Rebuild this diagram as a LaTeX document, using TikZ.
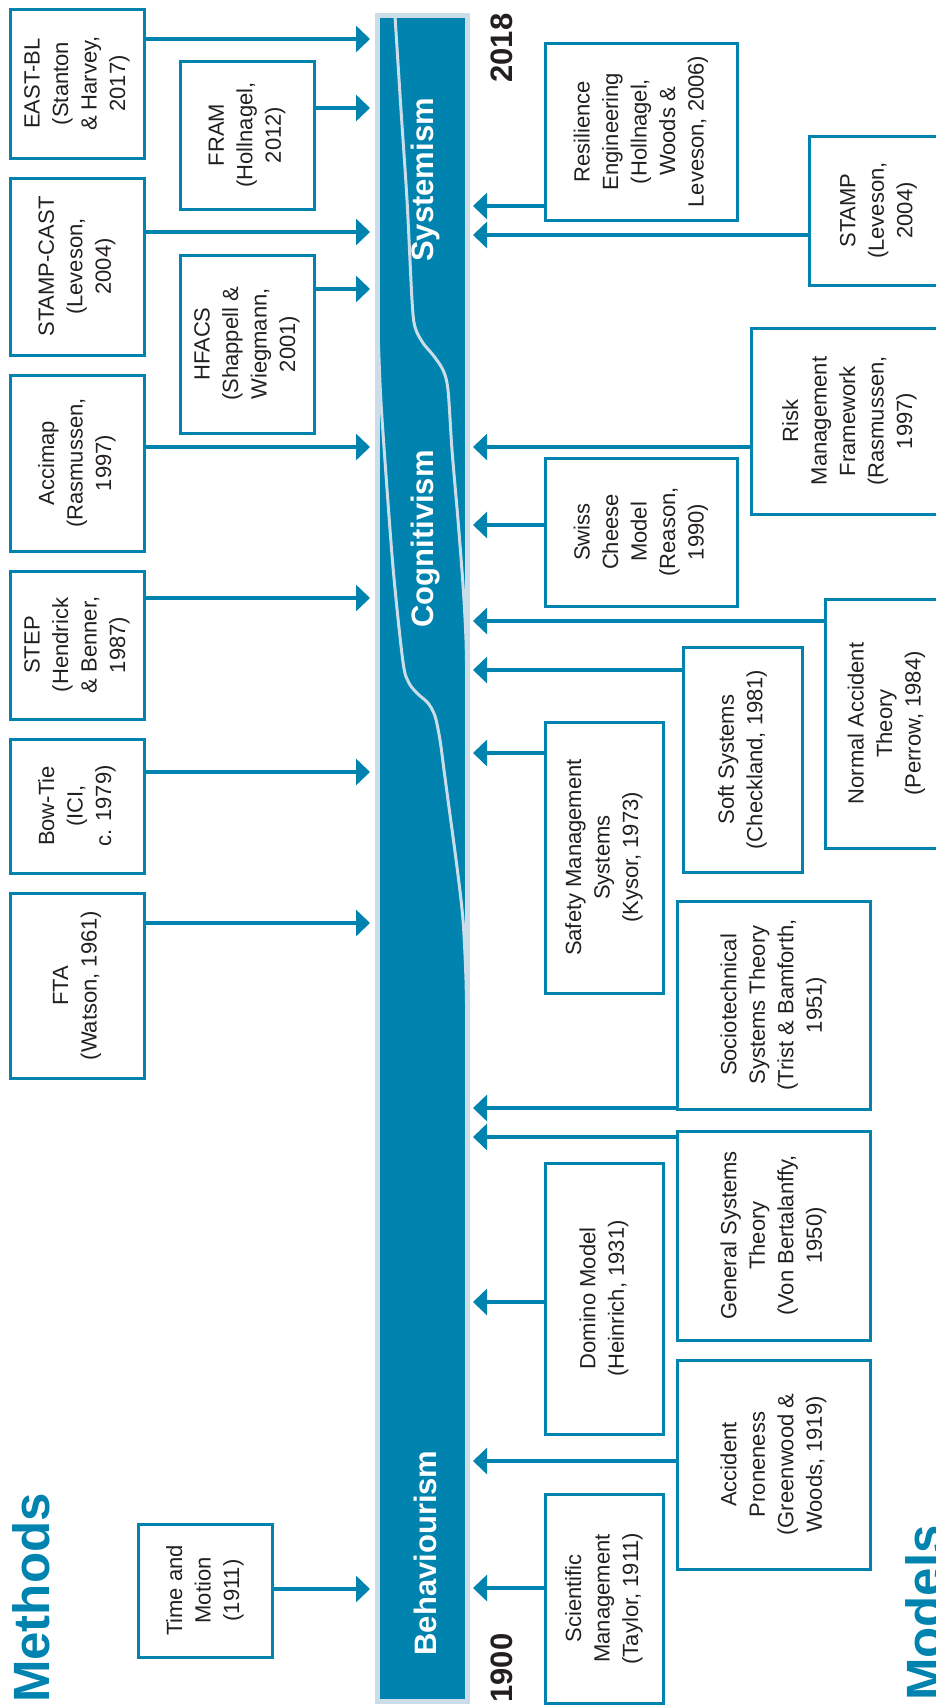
\documentclass[tikz,border=0pt]{standalone}
\usepackage{fontspec}
\setmainfont{Liberation Sans}
\usetikzlibrary{arrows.meta}
\definecolor{mainblue}{HTML}{0083AE}
\definecolor{barlight}{HTML}{CBDDE9}
\definecolor{txt}{HTML}{231F20}
\begin{document}
\begin{tikzpicture}[x=1pt,y=-1pt,
  mbox/.style={draw=mainblue, line width=3pt, rotate=90, inner sep=0pt, outer sep=0pt,
    align=center, text=txt, font=\fontsize{22}{28.5}\selectfont},
  arr/.style={draw=mainblue, line width=3.3pt, -{Triangle[length=14pt,width=26pt]}},
  era/.style={rotate=90, text=white, font=\fontsize{31}{31}\bfseries\selectfont},
  year/.style={rotate=90, text=txt, font=\fontsize{31}{31}\bfseries\selectfont},
  side/.style={rotate=90, text=mainblue, font=\fontsize{51}{51}\bfseries\selectfont},
  divider/.style={draw=barlight, line width=3pt}]
\useasboundingbox (0,0) rectangle (936,1706);
\clip (0,0) rectangle (936,1706);

% timeline bar
\node[draw=barlight, fill=mainblue, line width=5pt, inner sep=0pt, outer sep=0pt,
      minimum width=90pt, minimum height=1686pt] (bar) at (422.5,858.5) {};
\coordinate (lt) at ([xshift=-7.5pt]bar.west);
\coordinate (rt) at ([xshift=5.5pt]bar.east);

% boundaries between the three eras
\draw[divider] plot[smooth] coordinates {(395,16) (401,110) (407,200) (412,300) (415,327)
  (423,343) (433,355) (443,370) (448,390) (452,450) (458,520) (463,585) (466,640) (467,700)};
\draw[divider] plot[smooth] coordinates {(378,330) (380,383) (383,433) (393,567) (403,662)
  (409,683) (418,694) (428,703) (435,716) (440,740) (444,770) (448,800) (457,867) (463,920)
  (466,980) (467,1040)};

\node[era] (sys) at (425,180) {Systemism};
\node[era] (cog) at (426,539) {Cognitivism};
\node[era] (beh) at (425,1553) {Behaviourism};

\node[year] (y2018) at (502,48) {2018};
\node[year] (y1900) at (502,1668) {1900};

\node[side] (methods) at (31,1598) {Methods};
\node[side] (models) at (924,1613) {Models};

% methods
\node[mbox, minimum width=149pt, minimum height=134pt] (eastbl) at (77,83.5) {EAST-BL\\(Stanton\\\& Harvey,\\2017)};
\node[mbox, minimum width=148pt, minimum height=134pt] (fram) at (247,135) {FRAM\\(Hollnagel,\\2012)};
\node[mbox, minimum width=177pt, minimum height=134pt] (stampcast) at (77,266.5) {STAMP-CAST\\(Leveson,\\2004)};
\node[mbox, minimum width=178pt, minimum height=134pt] (hfacs) at (247,344) {HFACS\\(Shappell \&\\Wiegmann,\\2001)};
\node[mbox, minimum width=176pt, minimum height=134pt] (accimap) at (77,463) {Accimap\\(Rasmussen,\\1997)};
\node[mbox, minimum width=148pt, minimum height=134pt] (step) at (77,645) {STEP\\(Hendrick\\\& Benner,\\1987)};
\node[mbox, minimum width=134pt, minimum height=134pt] (bowtie) at (77,806) {Bow-Tie\\(ICI,\\c. 1979)};
\node[mbox, minimum width=185pt, minimum height=134pt] (fta) at (77,985.5) {FTA\\(Watson, 1961)};
\node[mbox, minimum width=133pt, minimum height=134pt] (tm) at (205,1590.5) {Time and\\Motion\\(1911)};

\draw[arr] (eastbl.south |- 0,39) -- (lt |- 0,39);
\draw[arr] (fram.south |- 0,108) -- (lt |- 0,108);
\draw[arr] (stampcast.south |- 0,232) -- (lt |- 0,232);
\draw[arr] (hfacs.south |- 0,289) -- (lt |- 0,289);
\draw[arr] (accimap.south |- 0,447) -- (lt |- 0,447);
\draw[arr] (step.south |- 0,598) -- (lt |- 0,598);
\draw[arr] (bowtie.south |- 0,772) -- (lt |- 0,772);
\draw[arr] (fta.south |- 0,923) -- (lt |- 0,923);
\draw[arr] (tm.south |- 0,1589) -- (lt |- 0,1589);

% models
\node[mbox, minimum width=177pt, minimum height=192pt] (resil) at (641,131.5) {Resilience\\Engineering\\(Hollnagel,\\Woods \&\\Leveson, 2006)};
\node[mbox, minimum width=149pt, minimum height=139pt] (stamp) at (878.5,210.5) {STAMP\\(Leveson,\\2004)};
\node[mbox, minimum width=186pt, minimum height=197pt] (risk) at (849.5,421) {Risk\\Management\\Framework\\(Rasmussen,\\1997)};
\node[mbox, minimum width=148pt, minimum height=192pt] (swiss) at (641,532) {Swiss\\Cheese\\Model\\(Reason,\\1990)};
\node[mbox, minimum width=249pt, minimum height=123pt] (nat) at (886.5,723.5) {Normal Accident\\Theory\\(Perrow, 1984)};
\node[mbox, minimum width=225pt, minimum height=119pt] (soft) at (742.5,759.5) {Soft Systems\\(Checkland, 1981)};
\node[mbox, minimum width=271pt, minimum height=118pt] (sms) at (604,857.5) {Safety Management\\Systems\\(Kysor, 1973)};
\node[mbox, minimum width=208pt, minimum height=193pt] (sts) at (773.5,1005) {Sociotechnical\\Systems Theory\\(Trist \& Bamforth,\\1951)};
\node[mbox, minimum width=209pt, minimum height=193pt] (gst) at (773.5,1235.5) {General Systems\\Theory\\(Von Bertalanffy,\\1950)};
\node[mbox, minimum width=271pt, minimum height=118pt] (domino) at (604,1298.5) {Domino Model\\(Heinrich, 1931)};
\node[mbox, minimum width=209pt, minimum height=193pt] (ap) at (773.5,1464.5) {Accident\\Proneness\\(Greenwood \&\\Woods, 1919)};
\node[mbox, minimum width=209pt, minimum height=118pt] (sci) at (604,1598.5) {Scientific\\Management\\(Taylor, 1911)};

\draw[arr] (resil.north |- 0,206) -- (rt |- 0,206);
\draw[arr] (stamp.north |- 0,235) -- (rt |- 0,235);
\draw[arr] (risk.north |- 0,447) -- (rt |- 0,447);
\draw[arr] (swiss.north |- 0,525) -- (rt |- 0,525);
\draw[arr] (nat.north |- 0,621) -- (rt |- 0,621);
\draw[arr] (soft.north |- 0,670) -- (rt |- 0,670);
\draw[arr] (sms.north |- 0,753) -- (rt |- 0,753);
\draw[arr] (sts.north |- 0,1108) -- (rt |- 0,1108);
\draw[arr] (gst.north |- 0,1137) -- (rt |- 0,1137);
\draw[arr] (domino.north |- 0,1302) -- (rt |- 0,1302);
\draw[arr] (ap.north |- 0,1461) -- (rt |- 0,1461);
\draw[arr] (sci.north |- 0,1588) -- (rt |- 0,1588);
\end{tikzpicture}
\end{document}
